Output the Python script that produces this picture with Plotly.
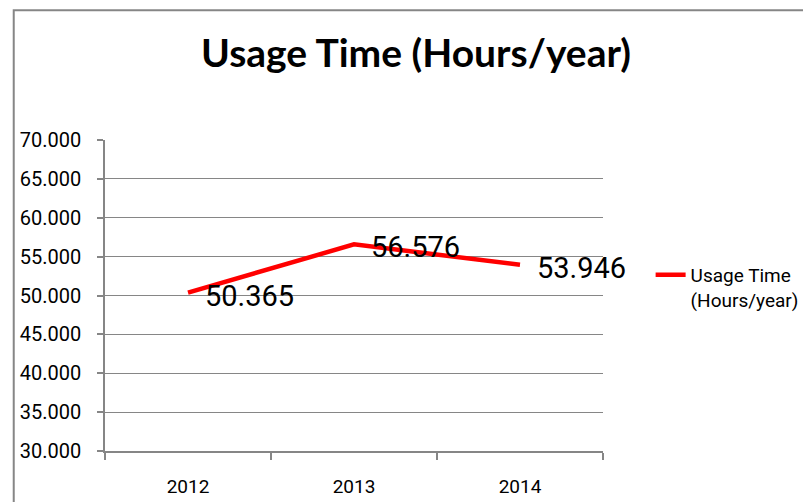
import plotly.graph_objects as go

years = ["2012", "2013", "2014"]
usage_hours = [50.365, 56.576, 53.946]
series_name = "Usage Time<br>(Hours/year)"
chart_title = "Usage Time (Hours/year)"

W, H = 811, 502
L, R, T, B = 93, 216, 132, 56
pw, ph = W - L - R, H - T - B

def px_x(p):
    return (p - L) / pw

def px_y(p):
    return (H - B - p) / ph

fig = go.Figure()
fig.add_trace(go.Scatter(
    x=years, y=usage_hours, mode="lines",
    name=series_name,
    line=dict(color="#FF0000", width=4.5),
    hoverinfo="x+y",
))

for i, yv in enumerate(usage_hours):
    fig.add_annotation(x=i, y=yv, text=f"{yv:.3f}", showarrow=False,
                       xanchor="left", yanchor="middle", xshift=15, yshift=-3,
                       font=dict(family="Roboto", size=29, color="#000000"))

# outer chart frame
fig.add_shape(type="rect", xref="paper", yref="paper",
              x0=px_x(1), x1=px_x(W + 20), y0=px_y(H + 20), y1=px_y(1),
              line=dict(color="#868686", width=2), fillcolor="rgba(0,0,0,0)", layer="below")

fig.update_layout(
    width=W, height=H,
    margin=dict(l=L, r=R, t=T, b=B, pad=0),
    paper_bgcolor="white", plot_bgcolor="white",
    title=dict(text=f"<b>{chart_title}</b>", x=408 / W, xanchor="center",
               y=1 - 45 / H, yanchor="middle", xref="container", yref="container",
               font=dict(family="Lato", size=39, color="#000000")),
    showlegend=True,
    legend=dict(x=px_x(643), y=px_y(249), xanchor="left", yanchor="top",
                valign="top", bgcolor="rgba(0,0,0,0)",
                font=dict(family="Roboto", size=19, color="#000000")),
    xaxis=dict(type="category", range=[-0.5, 2.5], showline=True, linecolor="#868686",
               linewidth=1.5, ticks="outside", tickson="boundaries", ticklen=7,
               tickcolor="#868686", tickwidth=1.5, showgrid=False, zeroline=False,
               tickfont=dict(family="Roboto", size=19, color="#000000"),
               ticklabelstandoff=17),
    yaxis=dict(range=[30, 70], dtick=5, tick0=30, tickformat=".3f",
               showline=True, linecolor="#868686", linewidth=1.5,
               ticks="outside", ticklen=6, tickcolor="#868686", tickwidth=1.5,
               showgrid=True, gridcolor="#868686", gridwidth=1.2, zeroline=False,
               tickfont=dict(family="Roboto", size=20, color="#000000"),
               ticklabelstandoff=12),
)

fig.write_html("out.html")
